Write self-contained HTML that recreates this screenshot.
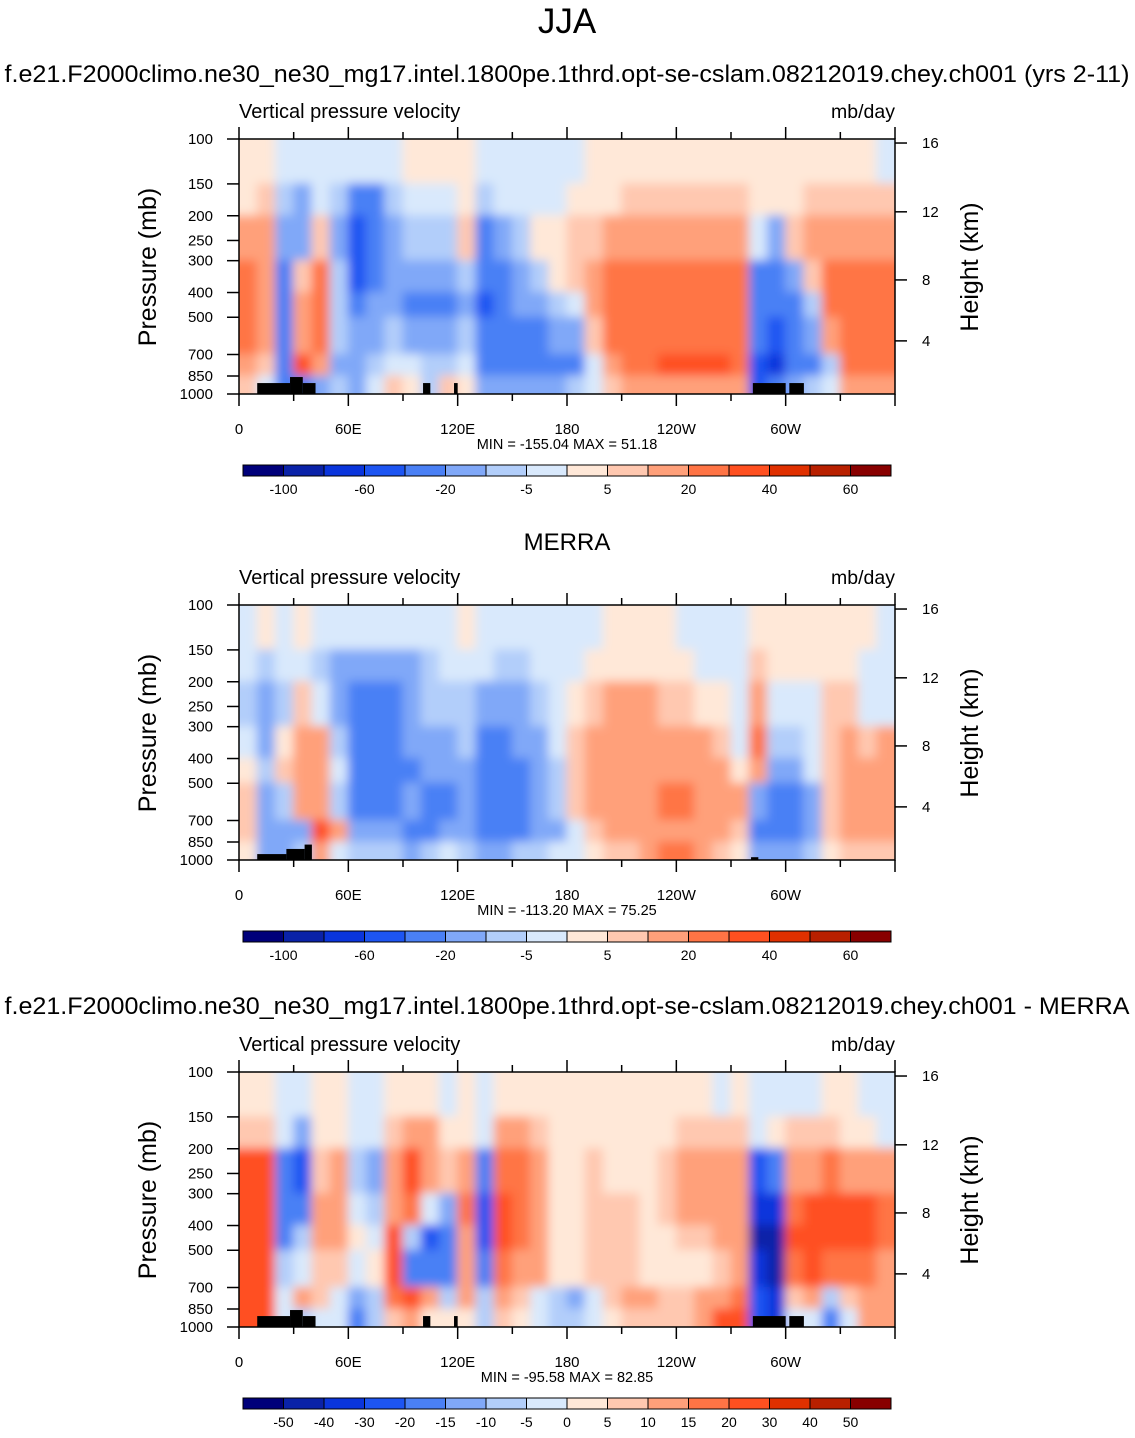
<!DOCTYPE html>
<html><head><meta charset="utf-8"><style>
body{margin:0;background:#fff;}
svg text{font-family:"Liberation Sans",sans-serif;fill:#000;}
</style></head><body>
<svg id="root" width="1135" height="1433" viewBox="0 0 1135 1433" xmlns="http://www.w3.org/2000/svg">
<defs>
<filter id="bl" filterUnits="userSpaceOnUse" x="0" y="0" width="1135" height="1433"><feGaussianBlur stdDeviation="5"/></filter>
<clipPath id="cp1"><rect x="239" y="139" width="656" height="255"/></clipPath>
<clipPath id="cp2"><rect x="239" y="605" width="656" height="255"/></clipPath>
<clipPath id="cp3"><rect x="239" y="1072" width="656" height="255"/></clipPath>
</defs>
<text x="567" y="33" font-size="35" text-anchor="middle">JJA</text>
<text x="567" y="82" font-size="24" text-anchor="middle" textLength="1125" lengthAdjust="spacingAndGlyphs">f.e21.F2000climo.ne30_ne30_mg17.intel.1800pe.1thrd.opt-se-cslam.08212019.chey.ch001 (yrs 2-11)</text>
<text x="567" y="550" font-size="24" text-anchor="middle">MERRA</text>
<text x="567" y="1014" font-size="24" text-anchor="middle" textLength="1125" lengthAdjust="spacingAndGlyphs">f.e21.F2000climo.ne30_ne30_mg17.intel.1800pe.1thrd.opt-se-cslam.08212019.chey.ch001 - MERRA</text>
<g id="g1"></g><g id="g2"></g><g id="g3"></g>
</svg>
<script>
const pBounds=[100,150,200,300,400,500,700,850,1000];
const lonTickLabels=["0","60E","120E","180","120W","60W"];
const pTicks=[100,150,200,250,300,400,500,700,850,1000];
const hTicks=[16,12,8,4];
const hTickPressure=[103.7,193,357,619];
const levels12=[-100,-80,-60,-40,-20,-10,-5,0,5,10,20,30,40,50,60];
const levels3=[-50,-40,-30,-20,-15,-10,-5,0,5,10,15,20,30,40,50];
const cbLabels12=["-100","-60","-20","-5","5","20","40","60"];
const cbLabels3=["-50","-40","-30","-20","-15","-10","-5","0","5","10","15","20","30","40","50"];
const colors=["#00007a","#0a22a8","#0a35dc","#1d55f2","#4a80f5","#80a8f8","#b2cefa","#d9e9fc","#ffe8d8","#ffc8b0","#ffa07a","#ff7445","#ff5020","#e03000","#b82000","#880000"];
// columns: 10-degree longitude bins; each inner array = one column, rows top(100mb)->bottom(1000mb)
const modelCols=[
[3,3,15,25,25,25,15,5],[3,5,10,15,15,10,5,-5],[-3,-10,-20,-30,-30,-30,-40,-30],[-3,-20,-20,5,15,15,30,-40],
[-3,-5,5,20,25,20,15,-20],[-3,-10,-20,-10,-10,-10,-20,-10],[-5,-30,-50,-50,-30,-20,-20,-20],[-5,-30,-40,-30,-20,-20,-10,-5],
[-3,-10,-20,-20,-20,-10,-5,5],[3,-5,-10,-20,-40,-20,-5,3],[3,-3,-10,-20,-30,-20,-10,-10],[3,-5,-10,-20,-30,-20,-10,5],
[3,3,5,-10,-20,-10,-5,3],[-3,-10,-30,-40,-50,-40,-30,-20],[-3,-5,-20,-30,-30,-30,-30,-20],[-3,-5,-10,-20,-20,-30,-30,-20],
[-3,-3,3,-10,-20,-30,-30,-20],[-3,-3,3,3,-10,-20,-30,-20],[-3,3,5,5,-5,-20,-30,-10],[3,3,8,15,15,5,-5,-3],
[3,3,10,25,25,25,15,5],[3,5,15,25,25,25,25,15],[3,5,15,25,25,25,25,15],[3,5,15,25,25,25,30,15],
[3,5,15,25,25,25,30,15],[3,5,15,25,25,25,30,15],[3,5,15,25,25,25,30,15],[3,5,15,20,20,25,25,10],
[3,3,-5,-30,-40,-40,-60,-50],[3,3,-20,-30,-40,-60,-70,-40],[3,3,5,-20,-30,-40,-40,-20],[3,5,10,5,-10,-20,-30,-10],
[3,5,15,25,20,10,-10,-5],[3,5,15,25,25,25,20,10],[3,5,15,25,25,25,20,10],[-3,5,15,25,25,25,20,10]];
const merraCols=[
[-3,-3,-10,-5,3,5,5,3],[3,-10,-20,-20,-10,-20,-20,-20],[-3,-5,-10,3,5,-10,-20,-20],[3,-5,5,10,15,10,-20,-10],
[-3,-10,-5,10,10,15,30,10],[-3,-20,-20,-10,-5,-10,10,-5],[-5,-20,-40,-40,-30,-30,-20,-10],[-5,-20,-30,-30,-30,-30,-20,-10],
[-5,-20,-30,-30,-30,-30,-20,-10],[-5,-20,-20,-20,-30,-20,-30,-20],[-3,-10,-10,-20,-20,-30,-30,-10],[-3,-5,-10,-20,-20,-30,-20,-5],
[3,-5,-10,-10,-20,-20,-20,-10],[-3,-5,-20,-30,-40,-40,-30,-20],[-3,-10,-20,-30,-40,-40,-40,-20],[-3,-10,-20,-20,-30,-30,-30,-10],
[-3,-5,-10,-20,-20,-20,-20,-10],[-3,-3,-5,-5,-10,-10,-20,-5],[-3,-3,3,5,5,5,-5,-3],[-3,3,5,10,15,10,5,3],
[3,3,10,15,15,15,10,5],[3,3,10,15,15,15,10,5],[3,3,10,15,15,15,15,10],[3,3,5,15,15,25,15,20],
[-3,3,5,15,15,25,15,20],[-3,-3,3,10,15,15,15,10],[-3,-3,3,5,10,15,10,5],[-3,-3,-3,-3,3,10,5,3],
[3,5,15,25,15,-20,-40,-20],[3,3,-5,-10,-20,-30,-40,-20],[3,3,-3,-10,-20,-30,-30,-20],[3,3,-3,-3,-5,-20,-20,-10],
[3,3,5,5,5,5,5,3],[3,3,5,10,15,15,15,5],[3,-3,-3,5,15,15,15,5],[-3,-3,-3,10,15,15,15,5]];
const diffCols=[
[3,5,20,25,25,25,25,25],[3,5,20,25,20,20,25,20],[-3,-5,-20,-20,-20,-10,-5,-5],[-3,-15,-30,-20,-10,-5,10,-10],
[3,3,5,10,10,5,5,-5],[3,3,10,12,12,5,-5,-5],[-3,-5,-10,-5,3,-5,-15,-20],[-5,-5,-15,-10,-5,3,-10,-10],
[3,5,10,12,20,20,15,5],[3,10,20,15,-10,-20,20,10],[3,10,10,-5,-30,-20,10,3],[-5,3,5,-15,-20,-20,-10,3],
[3,3,10,15,10,10,10,3],[-5,-5,-20,-30,-30,-20,-10,-10],[3,10,15,20,20,15,10,5],[3,10,15,15,15,10,5,3],
[3,5,10,10,10,10,-5,-5],[3,3,3,3,3,3,-10,-10],[3,3,3,3,3,3,-15,-10],[3,3,5,5,5,5,-5,-3],
[3,3,3,5,5,5,5,3],[3,3,3,5,5,5,10,5],[3,3,3,3,3,3,10,5],[3,3,5,5,3,3,5,5],
[3,5,10,10,5,3,5,5],[3,5,10,10,5,3,10,10],[-3,5,10,10,10,5,10,20],[3,5,10,10,10,10,15,25],
[-3,-5,-30,-40,-50,-40,-30,-30],[-3,3,-20,-40,-50,-50,-40,-40],[-3,5,10,15,20,15,5,-5],[-3,5,10,20,25,20,10,-5],
[3,5,15,20,20,15,-10,-20],[3,3,10,20,20,15,5,-5],[-3,3,10,20,20,15,10,10],[-3,-3,10,15,15,10,10,10]];
const minmax=["MIN = -155.04  MAX =  51.18","MIN = -113.20  MAX =  75.25","MIN = -95.58  MAX =  82.85"];
// topography blocks: [lon start, lon end, top pressure]
const topo1=[[10,28,906],[28,35,858],[35,42,906],[101,105,906],[118,120,906],[282,300,906],[302,310,906]];
const topo2=[[10,26,948],[26,36,905],[36,40,870],[281,285,975]];
const topo3=topo1;

const NS="http://www.w3.org/2000/svg";
const X0=239,W=656,H=255;
function xs(lon){return X0+lon/360*W;}
function mk(tag,attrs,parent){const e=document.createElementNS(NS,tag);for(const k in attrs)e.setAttribute(k,attrs[k]);parent.appendChild(e);return e;}
function colorFor(v,lv){let i=0;while(i<lv.length&&v>=lv[i])i++;return colors[i];}

function panel(gid,top,cols,lv,cbl,mm,topo,idx){
  const g=document.getElementById(gid);
  const ys=p=>top+(Math.log10(p)-2)*H;
  const vl=mk("text",{x:239,y:top-21,"font-size":20},g);vl.textContent="Vertical pressure velocity";
  
  
  const u=mk("text",{x:895,y:top-21,"font-size":19.5,"text-anchor":"end"},g);u.textContent="mb/day";
  
  
  const cg=mk("g",{"clip-path":"url(#cp"+idx+")"},g);
  
  
  mk("rect",{x:X0,y:top,width:W,height:H,fill:colors[8]},cg);
  const fg=mk("g",{filter:"url(#bl)"},cg);
  const nc=cols.length,nr=cols[0].length;
  for(let c=0;c<nc;c++)for(let r=0;r<nr;r++){
    let y1=ys(pBounds[r]),y2=ys(pBounds[r+1]);
    let x1=xs(c*360/nc),x2=xs((c+1)*360/nc);
    if(r===0)y1-=15; if(r===nr-1)y2+=15; if(c===0)x1-=15; if(c===nc-1)x2+=15;
    const rc=mk("rect",{x:x1-0.5,y:y1-0.5,width:x2-x1+1,height:y2-y1+1,fill:colorFor(cols[c][r],lv)},fg);
    
    
  }
  topo.forEach(t=>{const b=mk("rect",{x:xs(t[0]),y:ys(t[2]),width:xs(t[1])-xs(t[0]),height:top+H-ys(t[2]),fill:"#000"},cg);
    
    });
  const fr=mk("rect",{x:X0,y:top,width:W,height:H,fill:"none",stroke:"#000","stroke-width":1.5},g);
  
  
  for(let lon=0;lon<=360;lon+=30){
    const major=lon%60===0,x=xs(lon),len=major?12:7;
    mk("line",{x1:x,x2:x,y1:top+H,y2:top+H+len,stroke:"#000","stroke-width":1.5},g);
    mk("line",{x1:x,x2:x,y1:top,y2:top-len,stroke:"#000","stroke-width":1.5},g);
    if(major&&lon<360){const t=mk("text",{x:x,y:top+H+40,"font-size":15,"text-anchor":"middle"},g);t.textContent=lonTickLabels[lon/60];
      
      }
  }
  pTicks.forEach(p=>{const y=ys(p);mk("line",{x1:X0-12,x2:X0,y1:y,y2:y,stroke:"#000","stroke-width":1.5},g);
    const t=mk("text",{x:X0-26,y:y+5,"font-size":15,"text-anchor":"end"},g);t.textContent=p;
    
    });
  hTicks.forEach((h,i)=>{const y=ys(hTickPressure[i]);
    mk("line",{x1:895,x2:907,y1:y,y2:y,stroke:"#000","stroke-width":1.5},g);
    const t=mk("text",{x:922,y:y+5,"font-size":15},g);t.textContent=h;
    
    });
  const pl=mk("text",{x:0,y:0,"font-size":25,"text-anchor":"middle",transform:"translate(156,"+(top+128)+") rotate(-90)"},g);pl.textContent="Pressure (mb)";
  
  
  const hl=mk("text",{x:0,y:0,"font-size":25,"text-anchor":"middle",transform:"translate(978,"+(top+128)+") rotate(-90)"},g);hl.textContent="Height (km)";
  
  
  const m=mk("text",{x:567,y:top+310,"font-size":14.5,"text-anchor":"middle","xml:space":"preserve"},g);m.textContent=mm;
  
  
  const cy=top+326,bw=648/16;
  for(let i=0;i<16;i++){const b=mk("rect",{x:243+i*bw,y:cy,width:bw,height:11,fill:colors[i],stroke:"#000","stroke-width":1},g);
    
    }
  const step=cbl.length===8?2:1;
  cbl.forEach((l,i)=>{const t=mk("text",{x:243+bw*(1+i*step),y:cy+29,"font-size":14,"text-anchor":"middle"},g);t.textContent=l;
    
    });
}
panel("g1",139,modelCols,levels12,cbLabels12,minmax[0],topo1,1);
panel("g2",605,merraCols,levels12,cbLabels12,minmax[1],topo2,2);
panel("g3",1072,diffCols,levels3,cbLabels3,minmax[2],topo3,3);
</script>
</body></html>
